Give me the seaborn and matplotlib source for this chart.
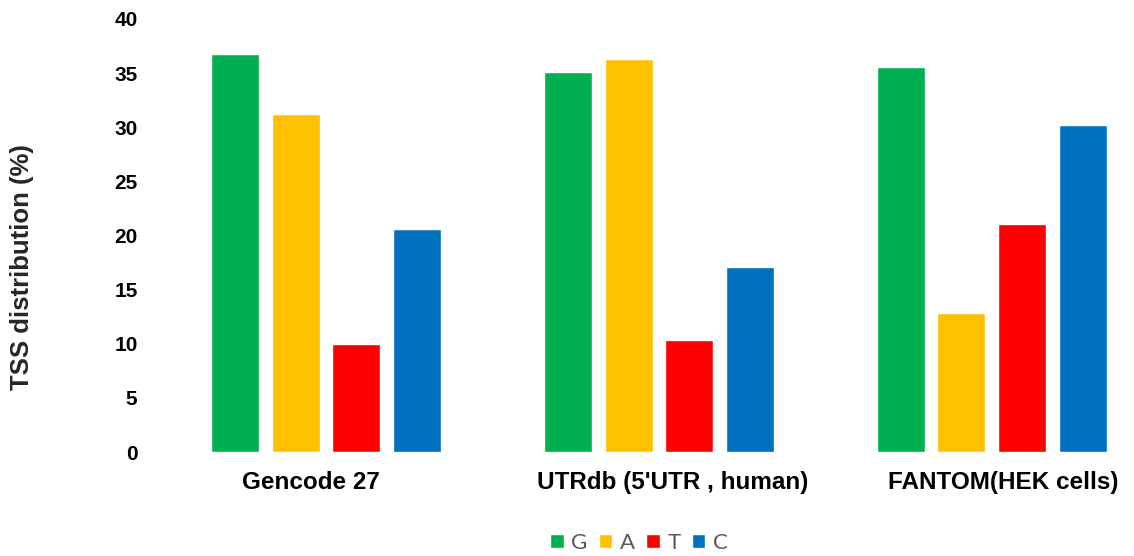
import matplotlib
matplotlib.use("Agg")
import matplotlib.pyplot as plt
import matplotlib.transforms as mtransforms
import seaborn as sns
import pandas as pd

# TSS first-nucleotide distribution per annotation source
datasets = ["Gencode 27", "UTRdb (5'UTR , human)", "FANTOM(HEK cells)"]
nucleotides = ["G", "A", "T", "C"]
pct_G = [36.8, 35.1, 35.6]
pct_A = [31.2, 36.3, 12.85]
pct_T = [10.0, 10.35, 21.05]
pct_C = [20.6, 17.1, 30.2]
y_ticks = [0, 5, 10, 15, 20, 25, 30, 35, 40]
colors = ["#00B050", "#FFC000", "#FF0000", "#0070C0"]

rows = []
for nuc, vals in zip(nucleotides, [pct_G, pct_A, pct_T, pct_C]):
    for ds, v in zip(datasets, vals):
        rows.append({"dataset": ds, "nucleotide": nuc, "pct": v})
df = pd.DataFrame(rows)

sns.set_theme(style="white")
plt.rcParams["font.family"] = ["Liberation Sans", "DejaVu Sans"]

W, H = 1134, 556
fig = plt.figure(figsize=(W / 100, H / 100), dpi=100)
ax = fig.add_axes([150 / W, (H - 452) / H, 975 / W, 433 / H])

sns.barplot(data=df, x="dataset", y="pct", hue="nucleotide",
            order=datasets, hue_order=nucleotides, palette=colors,
            width=0.73, gap=0.21, saturation=1, errorbar=None, ax=ax)

ax.set_xlim(-0.5285, 2.40)
ax.set_ylim(0, 40)
ax.set_yticks(y_ticks)
ax.set_yticklabels([str(t) for t in y_ticks], fontsize=15, fontweight="bold")
ax.tick_params(axis="both", length=0, colors="#000000")
ax.tick_params(axis="y", pad=9)
ax.tick_params(axis="x", pad=14)

# category labels sit slightly off their group centres
label_shift_px = [-15, 14, 11]
for lab, dx in zip(ax.get_xticklabels(), label_shift_px):
    lab.set_fontsize(17.5)
    lab.set_fontweight("bold")
    lab.set_transform(lab.get_transform() +
                      mtransforms.ScaledTranslation(dx / 100, 0, fig.dpi_scale_trans))

for s in ax.spines.values():
    s.set_visible(False)
ax.grid(False)

ax.set_xlabel("")
ax.set_ylabel("TSS distribution (%)", fontsize=18.5, fontweight="bold")
ax.yaxis.set_label_coords(-0.119, 0.426)

handles, labels = ax.get_legend_handles_labels()
ax.get_legend().remove()
leg = fig.legend(handles, labels, ncol=4, loc="center",
                 bbox_to_anchor=(639 / W, 1 - 543 / H), frameon=False,
                 handlelength=0.6, handleheight=0.6, handletextpad=0.35,
                 columnspacing=0.5, prop={"family": "Lato", "size": 16})
for t in leg.get_texts():
    t.set_color("#595959")

fig.savefig("out.png", dpi=100)
